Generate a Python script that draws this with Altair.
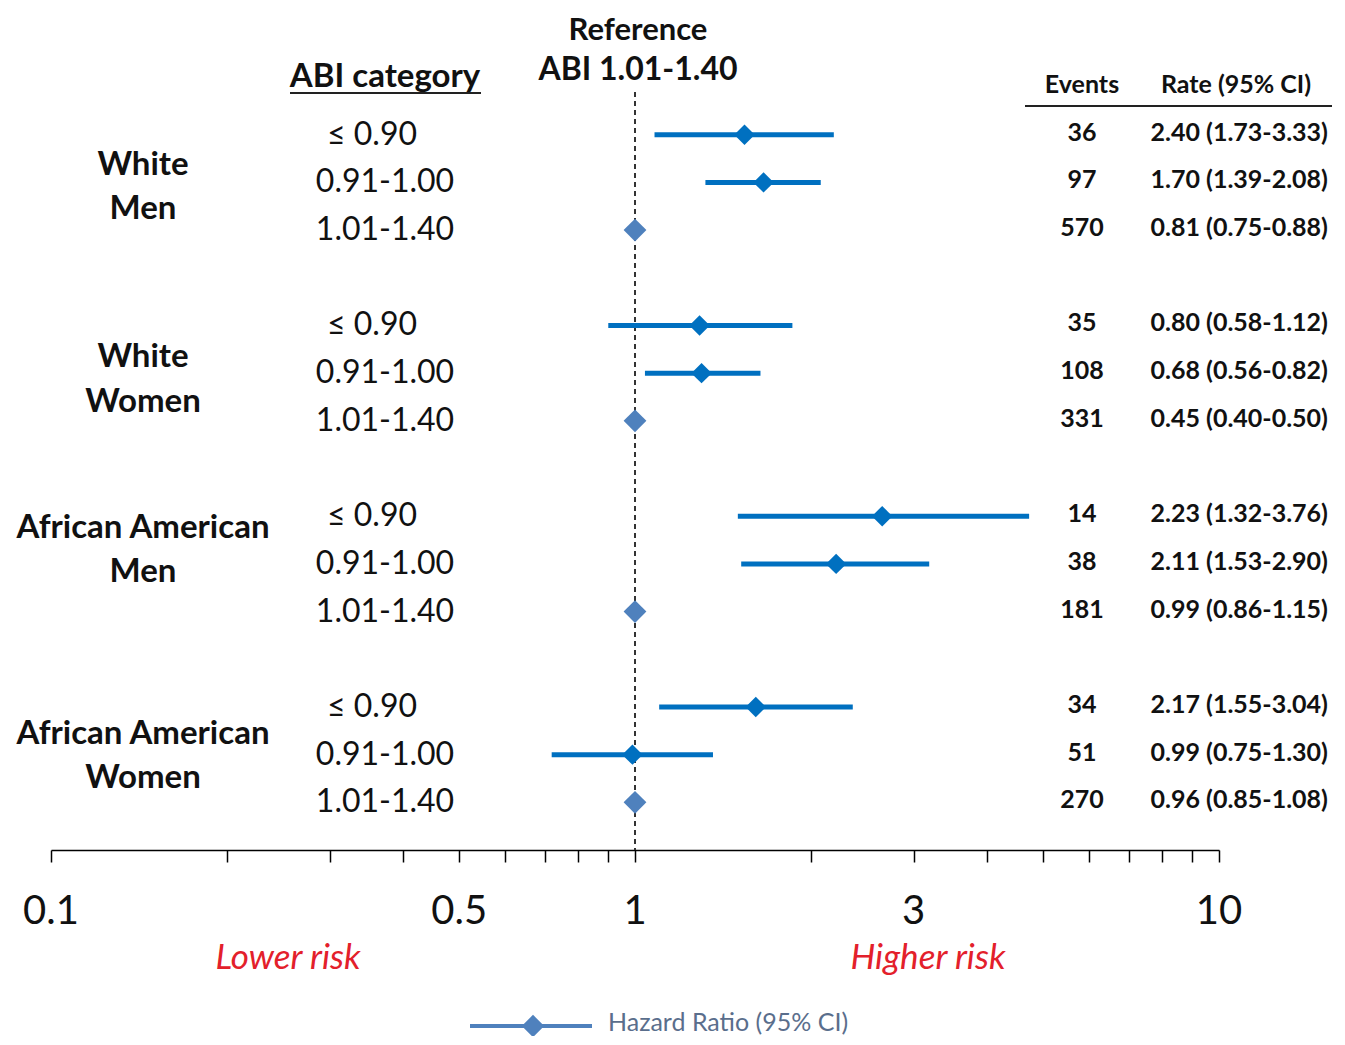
import altair as alt
import pandas as pd

# ---------------- data ----------------
group_line1 = ["White", "White", "African American", "African American"]
group_line2 = ["Men", "Women", "Men", "Women"]
group_label_rows1 = [0.63, 4.67, 8.24, 12.56]
group_label_rows2 = [1.55, 5.60, 9.16, 13.48]

abi_cats = ["≤ 0.90", "0.91-1.00", "1.01-1.40"]
rows = [0, 1, 2, 4, 5, 6, 8, 9, 10, 12, 13, 14]
hr = [1.54, 1.66, 1.0, 1.29, 1.30, 1.0, 2.65, 2.21, 1.0, 1.61, 0.99, 1.0]
ci_lo = [1.08, 1.32, None, 0.90, 1.04, None, 1.50, 1.52, None, 1.10, 0.72, None]
ci_hi = [2.19, 2.08, None, 1.86, 1.64, None, 4.73, 3.19, None, 2.36, 1.36, None]
events = [36, 97, 570, 35, 108, 331, 14, 38, 181, 34, 51, 270]
rates = ["2.40 (1.73-3.33)", "1.70 (1.39-2.08)", "0.81 (0.75-0.88)",
         "0.80 (0.58-1.12)", "0.68 (0.56-0.82)", "0.45 (0.40-0.50)",
         "2.23 (1.32-3.76)", "2.11 (1.53-2.90)", "0.99 (0.86-1.15)",
         "2.17 (1.55-3.04)", "0.99 (0.75-1.30)", "0.96 (0.85-1.08)"]

tick_values = [0.1, 0.2, 0.3, 0.4, 0.5, 0.6, 0.7, 0.8, 0.9, 1,
               2, 3, 4, 5, 6, 7, 8, 9, 10]
tick_labels = [0.1, 0.5, 1, 3, 10]
tick_label_text = ["0.1", "0.5", "1", "3", "10"]

FONT = "Lato"
BLUE = "#0070C0"
REFBLUE = "#4F81BD"

rows_df = pd.DataFrame({
    "row": rows,
    "cat": abi_cats * 4,
    "hr": hr,
    "lo": ci_lo,
    "hi": ci_hi,
    "events": [str(e) for e in events],
    "rate": rates,
    "ref": [c == "1.01-1.40" for c in abi_cats * 4],
})
grp_df = pd.DataFrame({
    "line": group_line1 + group_line2,
    "row": group_label_rows1 + group_label_rows2,
})
ticklab_df = pd.DataFrame({"v": tick_labels, "t": tick_label_text})

W, H = 1168, 763
xscale = alt.Scale(type="log", domain=[0.1, 10], nice=False)
yscale = alt.Scale(domain=[-1, 15], reverse=True, nice=False, zero=False)
Y = lambda f: alt.Y(f, scale=yscale, axis=None)

base = alt.Chart(rows_df)

x_axis = alt.Axis(values=tick_values, labels=False, title=None, grid=False,
                  tickSize=12, tickColor="#000", tickWidth=1.5,
                  domainColor="#000", domainWidth=1.5)

ci = base.transform_filter("datum.lo != null").mark_rule(
    color=BLUE, strokeWidth=5).encode(
    x=alt.X("lo:Q", scale=xscale, axis=x_axis),
    x2="hi:Q",
    y=Y("row:Q"),
)

refline = alt.Chart(pd.DataFrame({"v": [1]})).mark_rule(
    color="#333", strokeDash=[5, 4], strokeWidth=2).encode(
    x=alt.X("v:Q", scale=xscale, axis=x_axis),
    y=alt.value(5), y2=alt.value(H),
)

pts = base.transform_filter("!datum.ref").mark_point(
    shape="diamond", filled=True, size=420, color=BLUE, opacity=1).encode(
    x=alt.X("hr:Q", scale=xscale, axis=x_axis),
    y=Y("row:Q"),
)
refpts = base.transform_filter("datum.ref").mark_point(
    shape="diamond", filled=True, size=520, color=REFBLUE, opacity=1).encode(
    x=alt.X("hr:Q", scale=xscale, axis=x_axis),
    y=Y("row:Q"),
)

# row labels
cat_main = base.transform_filter("datum.cat != '≤ 0.90'").mark_text(
    font=FONT, fontSize=32, color="#111", align="center", baseline="middle").encode(
    x=alt.value(334), y=Y("row:Q"), text="cat:N")
cat_le = base.transform_filter("datum.cat == '≤ 0.90'").mark_text(
    font=FONT, fontSize=32, color="#111", align="center", baseline="middle").encode(
    x=alt.value(321), y=Y("row:Q"), text="cat:N")

grp = alt.Chart(grp_df).mark_text(
    font=FONT, fontSize=33, fontWeight="bold", color="#111",
    align="center", baseline="middle").encode(
    x=alt.value(92), y=Y("row:Q"), text="line:N")

ev = base.mark_text(font=FONT, fontSize=25, fontWeight="bold", color="#111",
                    align="center", baseline="middle", dy=-2).encode(
    x=alt.value(1031), y=Y("row:Q"), text="events:N")
rt = base.mark_text(font=FONT, fontSize=25, fontWeight="bold", color="#111",
                    align="right", baseline="middle", dy=-2).encode(
    x=alt.value(1277), y=Y("row:Q"), text="rate:N")

def label(txt, x, y, size, weight="bold", color="#111", style="normal", align="center"):
    return alt.Chart(pd.DataFrame({"t": [txt]})).mark_text(
        font=FONT, fontSize=size, fontWeight=weight, color=color, fontStyle=style,
        align=align, baseline="middle").encode(
        x=alt.value(x), y=alt.value(y), text="t:N")

headers = [
    label("ABI category", 334, -10, 33),
    label("Reference", 587, -56, 31),
    label("ABI 1.01-1.40", 587, -17, 32),
    label("Events", 1031, -2, 25),
    label("Rate (95% CI)", 1185, -2, 25),
    label("Lower risk", 237, 871, 35, weight="normal", color="#E3202B", style="italic"),
    label("Higher risk", 877, 871, 35, weight="normal", color="#E3202B", style="italic"),
    label("Hazard Ratio (95% CI)", 557, 936, 25, weight="normal", color="#5A6E8C", align="left"),
]

underline1 = alt.Chart(pd.DataFrame({"a": [0]})).mark_rule(color="#222", strokeWidth=2).encode(
    x=alt.value(239), x2=alt.value(430), y=alt.value(6))
underline2 = alt.Chart(pd.DataFrame({"a": [0]})).mark_rule(color="#222", strokeWidth=2).encode(
    x=alt.value(974), x2=alt.value(1281), y=alt.value(19))

legend_line = alt.Chart(pd.DataFrame({"a": [0]})).mark_rule(color=REFBLUE, strokeWidth=4).encode(
    x=alt.value(419), x2=alt.value(541), y=alt.value(939))
legend_pt = alt.Chart(pd.DataFrame({"a": [0]})).mark_point(
    shape="diamond", filled=True, size=500, color=REFBLUE, opacity=1).encode(
    x=alt.value(482), y=alt.value(939))

ticklabs = alt.Chart(ticklab_df).mark_text(
    font=FONT, fontSize=40, color="#111", align="center", baseline="middle").encode(
    x=alt.X("v:Q", scale=xscale, axis=x_axis), y=alt.value(825), text="t:N")

chart = alt.layer(
    refline, ci, pts, refpts, cat_main, cat_le, grp, ev, rt, ticklabs,
    underline1, underline2, legend_line, legend_pt, *headers
).properties(
    width=W, height=H,
    background="white",
    autosize=alt.AutoSizeParams(type="none"),
    padding={"left": 43, "top": 79, "right": 115, "bottom": 186},
).configure_axis(grid=False).configure_view(stroke=None, strokeWidth=0)

chart.save("out.html", embed_options={"renderer": "svg", "actions": False})
